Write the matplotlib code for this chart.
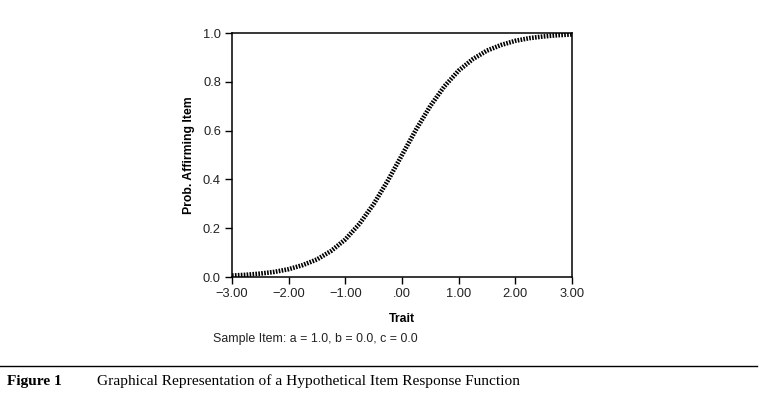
import matplotlib
matplotlib.use("Agg")
import matplotlib.pyplot as plt
from matplotlib.lines import Line2D

trait = [-3.00, -2.75, -2.50, -2.25, -2.00, -1.75, -1.50, -1.25, -1.00, -0.75, -0.50, -0.25,
         0.00, 0.25, 0.50, 0.75, 1.00, 1.25, 1.50, 1.75, 2.00, 2.25, 2.50, 2.75, 3.00]
prob = [0.006, 0.009, 0.014, 0.021, 0.032, 0.049, 0.072, 0.107, 0.154, 0.218, 0.299, 0.395,
        0.500, 0.605, 0.701, 0.782, 0.846, 0.893, 0.928, 0.951, 0.968, 0.979, 0.986, 0.991, 0.994]
xticks = [-3, -2, -1, 0, 1, 2, 3]
xticklabels = ["\u22123.00", "\u22122.00", "\u22121.00", ".00", "1.00", "2.00", "3.00"]
yticks = [0.0, 0.2, 0.4, 0.6, 0.8, 1.0]
yticklabels = ["0.0", "0.2", "0.4", "0.6", "0.8", "1.0"]

sans = ["Liberation Sans", "DejaVu Sans"]
serif = ["Liberation Serif", "DejaVu Serif"]

fig = plt.figure(figsize=(7.67, 4.01), dpi=100)
ax = fig.add_axes([232/767, 1-277/401, (572-232)/767, (277-33)/401])

ax.plot(trait, prob, color="black", lw=3.3, linestyle=(0, (0.36, 0.28)),
        dash_capstyle="butt")
ax.set_xlim(-3, 3)
ax.set_ylim(0, 1)
ax.set_xticks(xticks)
ax.set_xticklabels(xticklabels, family=sans, fontsize=9.3, color="#222222")
ax.set_yticks(yticks)
ax.set_yticklabels(yticklabels, family=sans, fontsize=9.3, color="#222222")
ax.tick_params(direction="out", length=5, width=1, pad=3)
for s in ax.spines.values():
    s.set_linewidth(1.1)
ax.set_xlabel("Trait", family=sans, fontsize=8.8, fontweight="bold", labelpad=9.3)
ax.set_ylabel("Prob. Affirming Item", family=sans, fontsize=8.8, fontweight="bold", labelpad=5.5)

fig.text(315/767, 1-339/401, "Sample Item: a = 1.0, b = 0.0, c = 0.0", family=sans, fontsize=8.9,
         ha="center", va="center", color="#222222")
fig.add_artist(Line2D([0, 757/767], [1-366/401, 1-366/401], color="black", lw=1.0,
                      transform=fig.transFigure))
fig.text(7/767, 1-381/401, "Figure 1", family=serif, fontsize=11.1, fontweight="bold",
         ha="left", va="center")
fig.text(97/767, 1-381/401, "Graphical Representation of a Hypothetical Item Response Function",
         family=serif, fontsize=11.1, ha="left", va="center")

fig.savefig("out.png", dpi=100)
